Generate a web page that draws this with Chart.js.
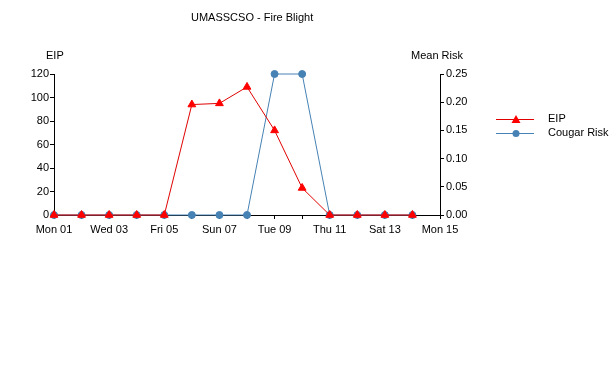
<!DOCTYPE html>
<html><head><meta charset="utf-8">
<script src="https://cdn.jsdelivr.net/npm/chart.js@4.4.1/dist/chart.umd.min.js"></script>
<style>html,body{margin:0;padding:0;background:#fff}#wrap{width:616px;height:384px}</style>
</head><body><div id="wrap"><canvas id="c" width="616" height="384"></canvas></div>
<script>
const chartTitle = "UMASSCSO - Fire Blight";
const leftAxisTitle = "EIP";
const rightAxisTitle = "Mean Risk";
const categories = ["Mon 01","Tue 02","Wed 03","Thu 04","Fri 05","Sat 06","Sun 07","Mon 08","Tue 09","Wed 10","Thu 11","Fri 12","Sat 13","Sun 14","Mon 15"];
const eipValues = [0,0,0,0,0,94,95,109,72,23,0,0,0,0];
const cougarRiskValues = [0,0,0,0,0,0,0,0,0.25,0.25,0,0,0,0];
const seriesNames = ["EIP","Cougar Risk"];
const lineColors = ["#e00000","#4682b4"];
const markerColors = ["#ff0000","#4682b4"];
const FONTFAM = '"Liberation Sans", Arial, sans-serif';
const FONT = '11px ' + FONTFAM;

const textPlugin = {
  id:'texts',
  afterDraw(chart){
    const ctx = chart.ctx;
    ctx.save();
    ctx.font = FONT;
    ctx.textBaseline = 'middle';
    ctx.textAlign = 'left';
    ctx.fillStyle = '#000';
    ctx.fillText(chartTitle, 191, 18);
    ctx.fillText(leftAxisTitle, 46, 56);
    ctx.fillText(rightAxisTitle, 411, 56);
    chart.data.datasets.forEach((ds,i)=>{
      const y = 119 + i*14;
      ctx.fillStyle = lineColors[i];
      ctx.fillRect(496, y, 38, 1);
      ctx.fillStyle = markerColors[i];
      ctx.beginPath();
      if (i === 0) { ctx.moveTo(516,y-4); ctx.lineTo(520.5,y+4); ctx.lineTo(511.5,y+4); ctx.closePath(); }
      else { ctx.arc(516,y+0.5,3.5,0,Math.PI*2); }
      ctx.fill();
      ctx.fillStyle = '#000';
      ctx.fillText(ds.label, 548, y);
    });
    ctx.restore();
  }
};

new Chart(document.getElementById('c'), {
  type:'line',
  data:{
    labels: categories,
    datasets:[
      {label:seriesNames[0], data:eipValues, yAxisID:'y', borderColor:lineColors[0], backgroundColor:markerColors[0],
       pointBackgroundColor:markerColors[0], pointBorderColor:markerColors[0], pointStyle:'triangle', pointRadius:4.5, borderWidth:1, tension:0, order:1, clip:false},
      {label:seriesNames[1], data:cougarRiskValues, yAxisID:'y1', borderColor:lineColors[1], backgroundColor:markerColors[1],
       pointBackgroundColor:markerColors[1], pointBorderColor:markerColors[1], pointStyle:'circle', pointRadius:3.5, borderWidth:1, tension:0, order:2, clip:false}
    ]
  },
  options:{
    responsive:false, animation:false, devicePixelRatio:1,
    layout:{padding:{left:0,right:0,top:74,bottom:0}},
    plugins:{legend:{display:false}, title:{display:false}, tooltip:{enabled:false}},
    scales:{
      x:{type:'category', offset:false,
         grid:{drawOnChartArea:false, drawTicks:true, tickLength:4, color:'#000'},
         border:{display:true, color:'#000'},
         ticks:{autoSkip:false, maxRotation:0, color:'#000', font:{family:FONTFAM, size:11}, padding:4,
                callback:(v,i)=> i%2===0 ? categories[i] : ''},
         afterFit:(s)=>{s.height=169;}},
      y:{position:'left', min:0, max:120,
         grid:{drawOnChartArea:false, drawTicks:true, tickLength:4, color:'#000'},
         border:{display:true, color:'#000'},
         ticks:{stepSize:10, color:'#000', font:{family:FONTFAM, size:11}, padding:1,
                callback:(v)=> v%20===0 ? String(v) : ''},
         afterFit:(s)=>{s.width=54;}},
      y1:{position:'right', min:0, max:0.25,
         grid:{drawOnChartArea:false, drawTicks:true, tickLength:4, color:'#000'},
         border:{display:true, color:'#000'},
         ticks:{stepSize:0.025, color:'#000', font:{family:FONTFAM, size:11}, padding:2,
                callback:(v)=> Math.round(v*1000)%50===0 ? v.toFixed(2) : ''},
         afterFit:(s)=>{s.width=176;}}
    }
  },
  plugins:[textPlugin]
});
</script></body></html>
